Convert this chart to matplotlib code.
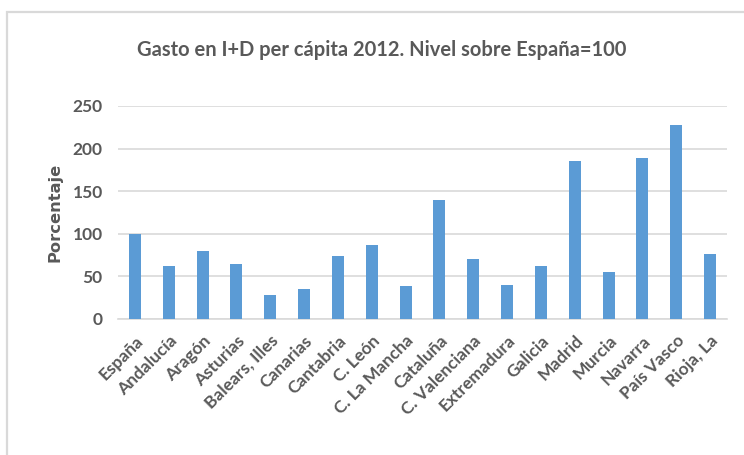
import matplotlib
matplotlib.use("Agg")
import matplotlib.pyplot as plt
from matplotlib.patches import Rectangle

categories = ["España", "Andalucía", "Aragón", "Asturias", "Balears, Illes", "Canarias",
              "Cantabria", "C. León", "C. La Mancha", "Cataluña", "C. Valenciana",
              "Extremadura", "Galicia", "Madrid", "Murcia", "Navarra", "País Vasco", "Rioja, La"]
values = [100, 62, 80, 64, 28, 34.5, 74, 87, 38, 140, 70, 40, 62, 185, 55, 189, 228, 76]
yticks = [0, 50, 100, 150, 200, 250]

title = "Gasto en I+D per cápita 2012. Nivel sobre España=100"
ylabel = "Porcentaje"

plt.rcParams['font.family'] = ['Lato', 'DejaVu Sans']
text_color = "#595959"
grid_color = "#d9d9d9"
bar_color = "#5b9bd5"

fig = plt.figure(figsize=(7.44, 4.55), dpi=100)
W, H = 744, 455

# outer chart border (only left and top visible)
fig.patches.append(Rectangle((7 / W, -0.05), 1.2, (H - 12) / H + 0.05, transform=fig.transFigure,
                             fill=False, edgecolor=grid_color, linewidth=1.6, zorder=0))

ax = fig.add_axes([118 / W, 1 - 318.7 / H, (727 - 118) / W, (318.7 - 106) / H])
x = list(range(len(categories)))
ax.bar(x, values, width=0.35, color=bar_color, zorder=3)
ax.set_xlim(-0.5, len(categories) - 0.5)
ax.set_ylim(0, 250)
ax.set_yticks(yticks)
ax.set_yticklabels([str(v) for v in yticks], fontsize=12.5, fontweight='bold', color=text_color)
ax.set_xticks(x)
ax.set_xticklabels(categories, rotation=45, ha='right', rotation_mode='anchor',
                   fontsize=12.5, fontweight='bold', color=text_color)
ax.tick_params(axis='both', length=0)
ax.tick_params(axis='y', pad=11)
ax.tick_params(axis='x', pad=10)
ax.grid(axis='y', color=grid_color, linewidth=1.2, zorder=0)
for s in ['top', 'right', 'left']:
    ax.spines[s].set_visible(False)
ax.spines['bottom'].set_color(grid_color)
ax.spines['bottom'].set_linewidth(1.2)
ax.set_ylabel(ylabel, fontsize=11.7, fontweight='bold', color=text_color,
              family=['DejaVu Sans'])
ax.yaxis.set_label_coords(-(118 - 62) / (727 - 118), 0.5)

fig.text(382 / W, 1 - 50 / H, title, ha='center', va='center', fontsize=14.5,
         fontweight='bold', color=text_color)

fig.savefig("out.png", dpi=100)
